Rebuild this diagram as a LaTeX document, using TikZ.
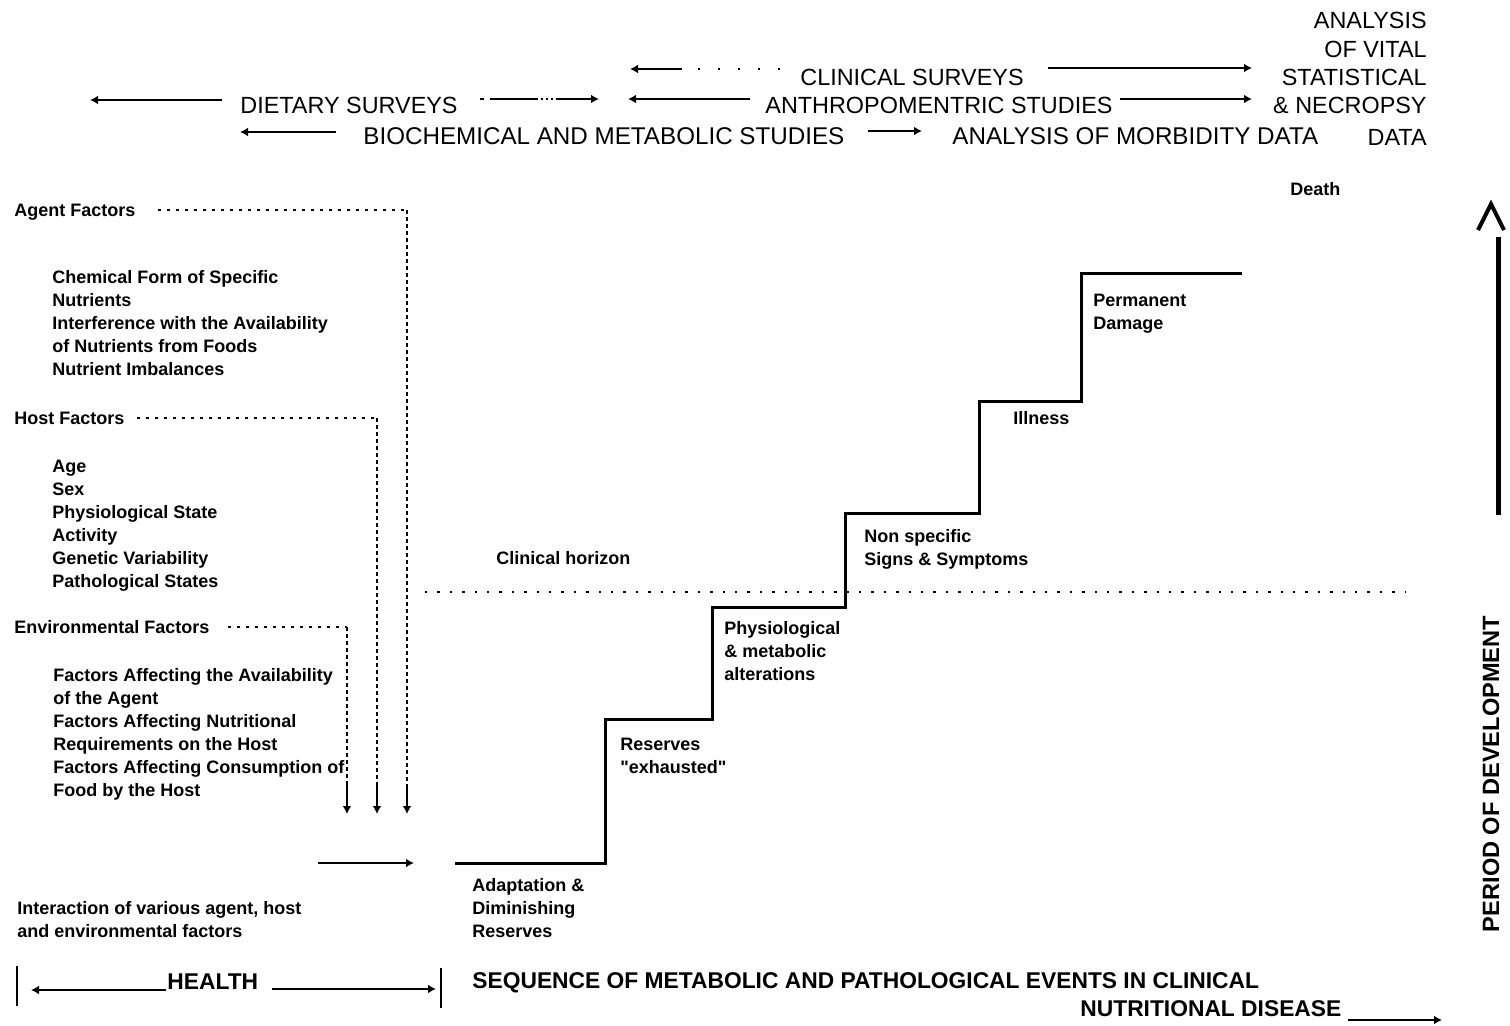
\documentclass[tikz,border=0pt]{standalone}
\usepackage{fontspec}
\setmainfont{Liberation Sans}[Ligatures=TeXOff]
\usetikzlibrary{arrows.meta}
\begin{document}
\begin{tikzpicture}[x=0.5pt,y=-0.5pt,
  captxt/.style={font=\fontsize{11.7}{14}\selectfont, inner sep=0, anchor=base west},
  captxtr/.style={font=\fontsize{11.7}{14}\selectfont, inner sep=0, anchor=base east},
  rowthree/.style={font=\fontsize{12.1}{14}\selectfont, inner sep=0, anchor=base west},
  lab/.style={font=\bfseries\fontsize{9}{11.5}\selectfont, inner sep=0, anchor=base west, align=left},
  bigtxt/.style={font=\bfseries\fontsize{11.4}{14}\selectfont, inner sep=0, anchor=base west},
  tipstyle/.style={-{Latex[length=4pt,width=4.4pt]}},
  arr/.style={line width=1pt, tipstyle},
  hdots/.style={line width=1pt, dash pattern=on 1.5pt off 3pt},
  vdash/.style={line width=1.1pt, dash pattern=on 2.2pt off 1.3pt},
  horizon/.style={line width=1pt, dash pattern=on 1.2pt off 5pt},
  stairline/.style={line width=1.5pt, line join=miter},
  barline/.style={line width=1.4pt}
]
\useasboundingbox (0,0) rectangle (1510,1025);

% ---------- top survey rows ----------
\node[captxt] (clin) at (800,85) {CLINICAL SURVEYS};
\node[captxt] (diet) at (240,113) {DIETARY SURVEYS};
\node[captxt] (anth) at (765,113) {ANTHROPOMENTRIC STUDIES};
\node[rowthree] (bioc) at (363,144) {BIOCHEMICAL AND METABOLIC STUDIES};
\node[rowthree] (morb) at (952,144) {ANALYSIS OF MORBIDITY DATA};

\node[captxtr] (vit1) at (1427,28) {ANALYSIS};
\node[captxtr] (vit2) at (1427,57) {OF VITAL};
\node[captxtr] (vit3) at (1427,85) {STATISTICAL};
\node[captxtr] (vit4) at (1427,113) {\& NECROPSY};
\node[captxtr] (vit5) at (1427,145) {DATA};

% row 1 arrows
\coordinate (c1a) at (780,69);
\coordinate (c1b) at (682,69);
\coordinate (c1h) at (630,69);
\draw[line width=1pt, dash pattern=on 1pt off 9pt] (c1a) -- (c1b);
\draw[arr] (c1b) -- (c1h);
\coordinate (c1r) at (1048,68);
\coordinate (c1rh) at (1252,68);
\draw[arr] (c1r) -- (c1rh);

% row 2 arrows
\coordinate (d2l) at (222,100);
\coordinate (d2lh) at (90,100);
\draw[arr] (d2l) -- (d2lh);
\coordinate (d2r) at (480,99);
\coordinate (d2rh) at (599,99);
\draw[arr, dash pattern=on 2pt off 3pt on 24pt off 1.5pt on 1pt off 1.5pt on 1pt off 1.5pt on 1pt off 1.5pt on 40pt] (d2r) -- (d2rh);
\coordinate (a2l) at (750,99);
\coordinate (a2lh) at (628,99);
\draw[arr] (a2l) -- (a2lh);
\coordinate (a2r) at (1120,99);
\coordinate (a2rh) at (1252,99);
\draw[arr] (a2r) -- (a2rh);

% row 3 arrows
\coordinate (b3l) at (336,132);
\coordinate (b3lh) at (240,132);
\draw[arr] (b3l) -- (b3lh);
\coordinate (b3r) at (868,131);
\coordinate (b3rh) at (922,131);
\draw[arr] (b3r) -- (b3rh);

% ---------- factor lists ----------
\node[lab] (agent) at (14,216) {Agent Factors};
\node[lab] (agentl) at (52,375) {Chemical Form of Specific\\Nutrients\\Interference with the Availability\\of Nutrients from Foods\\Nutrient Imbalances};
\node[lab] (host) at (14,424) {Host Factors};
\node[lab] (hostl) at (52,587) {Age\\Sex\\Physiological State\\Activity\\Genetic Variability\\Pathological States};
\node[lab] (env) at (14,633) {Environmental Factors};
\node[lab] (envl) at (53,796) {Factors Affecting the Availability\\of the Agent\\Factors Affecting Nutritional\\Requirements on the Host\\Factors Affecting Consumption of\\Food by the Host};

% dotted collectors
\coordinate (ag0) at (158,210);
\coordinate (ag1) at (407,210);
\coordinate (ag2) at (407,785);
\coordinate (ag3) at (407,814);
\draw[hdots] (ag0) -- (ag1);
\draw[vdash] (ag1) -- (ag2);
\draw[arr] (ag2) -- (ag3);

\coordinate (ho0) at (137,418);
\coordinate (ho1) at (377,418);
\coordinate (ho2) at (377,785);
\coordinate (ho3) at (377,814);
\draw[hdots] (ho0) -- (ho1);
\draw[vdash] (ho1) -- (ho2);
\draw[arr] (ho2) -- (ho3);

\coordinate (en0) at (228,627);
\coordinate (en1) at (347,627);
\coordinate (en2) at (347,785);
\coordinate (en3) at (347,814);
\draw[hdots] (en0) -- (en1);
\draw[vdash] (en1) -- (en2);
\draw[arr] (en2) -- (en3);

% ---------- interaction & staircase ----------
\node[lab] (inter) at (17,937) {Interaction of various agent, host\\and environmental factors};
\coordinate (ia) at (318,863);
\coordinate (ib) at (414,863);
\draw[arr] (ia) -- (ib);

\coordinate (s0) at (455,863);
\coordinate (s1) at (605,863);
\coordinate (s2) at (605,719);
\coordinate (s3) at (712,719);
\coordinate (s4) at (712,607);
\coordinate (s5) at (845,607);
\coordinate (s6) at (845,513);
\coordinate (s7) at (979,513);
\coordinate (s8) at (979,401);
\coordinate (s9) at (1081,401);
\coordinate (s10) at (1081,273);
\coordinate (s11) at (1242,273);
\draw[stairline] (s0) -- (s1) -- (s2) -- (s3) -- (s4) -- (s5) -- (s6) -- (s7) -- (s8) -- (s9) -- (s10) -- (s11);

\coordinate (h0) at (425,592);
\coordinate (h1) at (1405,592);
\draw[horizon] (h0) -- (h1);
\node[lab] (horiz) at (496,564) {Clinical horizon};

\node[lab] (adapt) at (472,937) {Adaptation \&\\Diminishing\\Reserves};
\node[lab] (resv) at (620,773) {Reserves\\"exhausted"};
\node[lab] (phys) at (724,680) {Physiological\\\& metabolic\\alterations};
\node[lab] (nonsp) at (864,565) {Non specific\\Signs \& Symptoms};
\node[lab] (ill) at (1013,424) {Illness};
\node[lab] (perm) at (1093,329) {Permanent\\Damage};
\node[lab] (death) at (1290,195) {Death};

% ---------- period of development ----------
\coordinate (pd0) at (1498,515);
\coordinate (pd1) at (1498,237);
\draw[line width=2.5pt] (pd0) -- (pd1);
\coordinate (pc0) at (1478,230);
\coordinate (pc1) at (1491,204);
\coordinate (pc2) at (1504,230);
\draw[line width=2pt, line join=miter] (pc0) -- (pc1) -- (pc2);
\node[font=\bfseries\fontsize{11.8}{14}\selectfont, inner sep=0, rotate=90] (period) at (1491,774) {PERIOD OF DEVELOPMENT};

% ---------- bottom line ----------
\coordinate (hb0) at (17,966);
\coordinate (hb1) at (17,1006);
\draw[barline] (hb0) -- (hb1);
\node[bigtxt] (health) at (167,989) {HEALTH};
\coordinate (hl0) at (166,990);
\coordinate (hl1) at (31,990);
\draw[arr] (hl0) -- (hl1);
\coordinate (hr0) at (272,989);
\coordinate (hr1) at (436,989);
\draw[arr] (hr0) -- (hr1);
\coordinate (hb2) at (441,968);
\coordinate (hb3) at (441,1008);
\draw[barline] (hb2) -- (hb3);

\node[bigtxt] (seq) at (472,988) {SEQUENCE OF METABOLIC AND PATHOLOGICAL EVENTS IN CLINICAL};
\node[bigtxt] (nutr) at (1080,1016) {NUTRITIONAL DISEASE};
\coordinate (n0) at (1348,1020);
\coordinate (n1) at (1442,1020);
\draw[arr] (n0) -- (n1);
\end{tikzpicture}
\end{document}
